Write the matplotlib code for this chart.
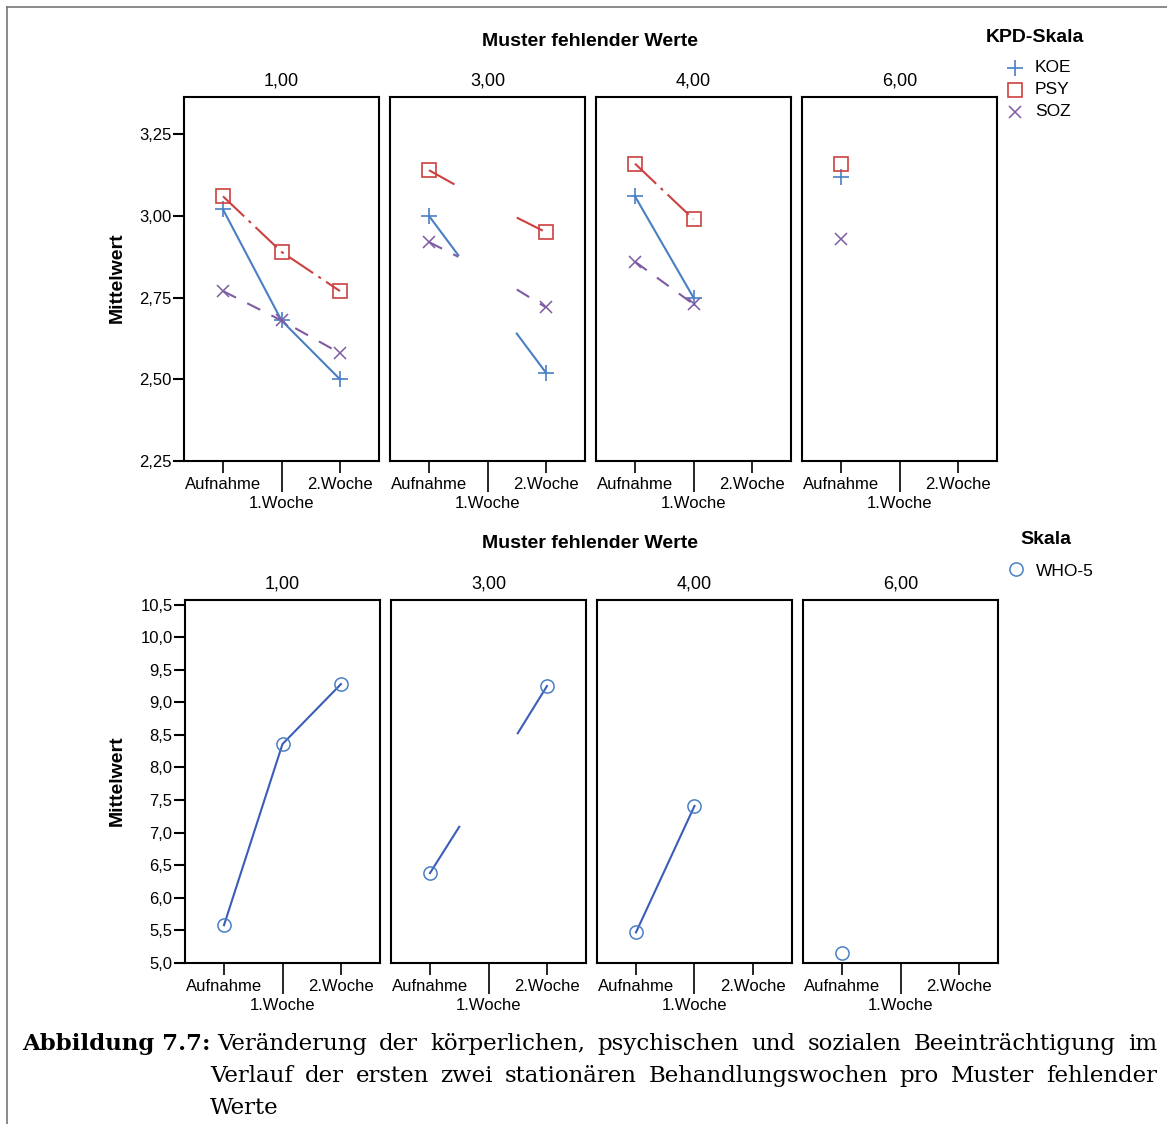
import numpy as np
import matplotlib
matplotlib.use("Agg")
from matplotlib import pyplot as plt
from matplotlib.lines import Line2D

''' Data '''
patterns = ['1,00', '3,00', '4,00', '6,00']
weeks = ['Aufnahme', '1.Woche', '2.Woche']
nan = np.nan

# one row per missing-value pattern: Aufnahme, 1.Woche, 2.Woche
koe = [[3.02, 2.68, 2.50], [3.00, 2.76, 2.52], [3.06, 2.75, nan], [3.12, nan, nan]]
psy = [[3.06, 2.89, 2.77], [3.14, 3.04, 2.95], [3.16, 2.99, nan], [3.16, nan, nan]]
soz = [[2.77, 2.68, 2.58], [2.92, 2.83, 2.72], [2.86, 2.73, nan], [2.93, nan, nan]]
who5 = [[5.58, 8.36, 9.28], [6.38, 7.80, 9.25], [5.47, 7.41, nan], [5.15, nan, nan]]
# pattern 3,00: the 1.Woche point is not shown, only half segments towards it
hidden_mid = [False, True, False, False]

kpd_names = ['KOE', 'PSY', 'SOZ']
top_ticks = [2.25, 2.50, 2.75, 3.00, 3.25]
bottom_ticks = [5.0, 5.5, 6.0, 6.5, 7.0, 7.5, 8.0, 8.5, 9.0, 9.5, 10.0, 10.5]

''' Styles '''
BLUE = '#4a7fc4'
RED = '#cc4040'
PURPLE = '#7d5ca4'
DARKBLUE = '#3b5db8'
styles = {
    'KOE': dict(color=BLUE, ls='-', marker='+', ms=11, mew=1.2),
    'PSY': dict(color=RED, ls=(0, (14, 3, 1.5, 3)), marker='s', ms=10.5, mew=1.2, mfc='none'),
    'SOZ': dict(color=PURPLE, ls=(0, (7, 6)), marker='x', ms=8, mew=1.1),
}
who_style = dict(color=DARKBLUE, ls='-', marker='o', ms=9.5, mew=1.1, mfc='none', mec=BLUE)

W, H = 1167, 1124
fig = plt.figure(figsize=(W / 100, H / 100), dpi=100)
plt.rcParams['font.family'] = ['Liberation Sans', 'DejaVu Sans']


def fx(x):
    return x / W


def fy(y):
    return 1 - y / H


def px_axes(x0, y0, x1, y1):
    return fig.add_axes([fx(x0), fy(y1), (x1 - x0) / W, (y1 - y0) / H])


def marker_kw(st):
    kw = {k: st[k] for k in ('marker', 'ms', 'mew') if k in st}
    kw['color'] = st.get('mec', st['color'])
    if 'mfc' in st:
        kw['mfc'] = st['mfc']
    return kw


def draw_series(ax, vals, hidden, st):
    xs = np.arange(3)
    v = np.array(vals, dtype=float)
    line_kw = dict(color=st['color'], ls=st['ls'], lw=1.5)
    mk = marker_kw(st)
    if hidden:
        # half segments towards the hidden middle value
        ax.plot([0, 0.5], [v[0], (v[0] + v[1]) / 2], **line_kw)
        ax.plot([1.5, 2], [(v[1] + v[2]) / 2, v[2]], **line_kw)
        ax.plot([0, 2], [v[0], v[2]], ls='none', **mk)
    else:
        ax.plot(xs, v, **line_kw)
        ax.plot(xs, v, ls='none', **mk)


def setup_axis(ax, ylim, yticks, fmt, first):
    ax.set_xlim(-2 / 3, 8 / 3)
    ax.set_ylim(*ylim)
    for s in ax.spines.values():
        s.set_linewidth(1.5)
    ax.set_xticks([0, 2])
    ax.set_xticklabels([weeks[0], weeks[2]], fontsize=12)
    ax.set_xticks([1], minor=True)
    ax.set_xticklabels([weeks[1]], minor=True, fontsize=12)
    ax.tick_params(axis='x', which='major', length=8.5, width=1.2, pad=3)
    ax.tick_params(axis='x', which='minor', length=22, width=1.2, pad=3)
    ax.set_yticks(yticks)
    if first:
        ax.set_yticklabels([fmt.format(t).replace('.', ',') for t in yticks], fontsize=12)
        ax.tick_params(axis='y', length=8, width=1.5, pad=1)
    else:
        ax.tick_params(axis='y', left=False, labelleft=False)


lefts_top = [184, 390, 596, 802]
lefts_bot = [185, 391, 597, 803]

# top row: KPD scales
for i, p in enumerate(patterns):
    ax = px_axes(lefts_top[i], 97, lefts_top[i] + 195, 461)
    setup_axis(ax, (2.25, 3.364), top_ticks, '{:.2f}', i == 0)
    for name, data in zip(kpd_names, [koe, psy, soz]):
        draw_series(ax, data[i], hidden_mid[i], styles[name])
    ax.set_title(p, fontsize=13, pad=8)

# bottom row: WHO-5
for i, p in enumerate(patterns):
    ax = px_axes(lefts_bot[i], 600, lefts_bot[i] + 195, 963)
    setup_axis(ax, (5.0, 10.57), bottom_ticks, '{:.1f}', i == 0)
    draw_series(ax, who5[i], hidden_mid[i], who_style)
    ax.set_title(p, fontsize=13, pad=8)

for y in (41, 544):
    fig.text(fx(590), fy(y), 'Muster fehlender Werte', fontsize=14, fontweight='bold',
             ha='center', va='center')
for y in (278, 781):
    fig.text(fx(117), fy(y), 'Mittelwert', fontsize=14, fontweight='bold',
             rotation=90, ha='center', va='center')

# legends (drawn by hand to match the layout)
fig.text(fx(1035), fy(37), 'KPD-Skala', fontsize=14, fontweight='bold', ha='center', va='center')
for k, name in enumerate(kpd_names):
    y = 68 + 22 * k
    fig.add_artist(Line2D([fx(1015)], [fy(y)], ls='none', **marker_kw(styles[name])))
    fig.text(fx(1035), fy(y), name, fontsize=12.5, ha='left', va='center')
fig.text(fx(1046), fy(540), 'Skala', fontsize=14, fontweight='bold', ha='center', va='center')
fig.add_artist(Line2D([fx(1016)], [fy(569)], ls='none', **marker_kw(who_style)))
fig.text(fx(1036), fy(571), 'WHO-5', fontsize=12.5, ha='left', va='center')

# page frame
fig.add_artist(Line2D([fx(7), fx(7)], [0, fy(7)], color='#777777', lw=1.2))
fig.add_artist(Line2D([fx(7), 1], [fy(7), fy(7)], color='#777777', lw=1.2))

# caption, justified
SERIF = ['DejaVu Serif']
CAP_SIZE = 16.5
fig.text(fx(22), fy(1050), 'Abbildung 7.7:', fontsize=CAP_SIZE, fontweight='bold',
         family=SERIF, va='baseline')
cap_lines = [
    ('Veränderung der körperlichen, psychischen und sozialen Beeinträchtigung im', 217, 1050, True),
    ('Verlauf der ersten zwei stationären Behandlungswochen pro Muster fehlender', 210, 1082, True),
    ('Werte', 210, 1114, False),
]
renderer = fig.canvas.get_renderer()
for text, x0, yb, justify in cap_lines:
    words = text.split()
    arts = [fig.text(0, fy(yb), w, fontsize=CAP_SIZE, family=SERIF, va='baseline') for w in words]
    widths = [a.get_window_extent(renderer).width for a in arts]
    if justify and len(words) > 1:
        gap = (1157 - x0 - sum(widths)) / (len(words) - 1)
    else:
        gap = 5
    x = x0
    for a, w in zip(arts, widths):
        a.set_x(fx(x))
        x += w + gap

fig.savefig('out.png', dpi=100)
